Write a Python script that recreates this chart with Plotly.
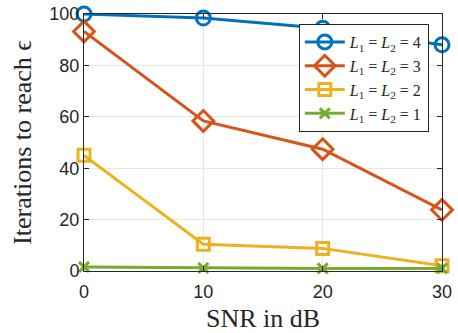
import plotly.graph_objects as go

snr = [0, 10, 20, 30]
it_L4 = [100, 98.4, 94.5, 88]
it_L3 = [93.2, 58.4, 47.4, 23.8]
it_L2 = [45, 10.4, 8.8, 2]
it_L1 = [1.6, 1.2, 1.0, 1.0]

names = ["<i>L</i><sub>1</sub> = <i>L</i><sub>2</sub> = 4",
         "<i>L</i><sub>1</sub> = <i>L</i><sub>2</sub> = 3",
         "<i>L</i><sub>1</sub> = <i>L</i><sub>2</sub> = 2",
         "<i>L</i><sub>1</sub> = <i>L</i><sub>2</sub> = 1"]
colors = ["#0072BD", "#D95319", "#EDB120", "#77AC30"]
symbols = ["circle-open", "diamond-open", "square-open", "x-thin-open"]
sizes = [14, 16, 12, 10]
series = [it_L4, it_L3, it_L2, it_L1]

fig = go.Figure()
for ys, nm, c, s, sz in zip(series, names, colors, symbols, sizes):
    fig.add_trace(go.Scatter(
        x=snr, y=ys, name=nm, mode="lines+markers",
        line=dict(color=c, width=3),
        marker=dict(symbol=s, size=sz, color=c, line=dict(width=3, color=c)),
        cliponaxis=False))

axis_common = dict(showline=True, linecolor="#262626", linewidth=1, mirror="ticks",
                   ticks="inside", ticklen=5, tickcolor="#262626",
                   showgrid=True, gridcolor="#E6E6E6", gridwidth=1, zeroline=False,
                   tickfont=dict(family="Liberation Sans, Arial", size=18, color="#262626"))

fig.update_xaxes(range=[0, 30], tickvals=[0, 10, 20, 30], ticklabelstandoff=4,
                 automargin=False,
                 title=dict(text="SNR in dB", font=dict(family="Liberation Serif, serif", size=26, color="#262626")),
                 **axis_common)
fig.update_yaxes(range=[0, 100], tickvals=[0, 20, 40, 60, 80, 100],
                 automargin="left",
                 title=dict(text="Iterations to reach ϵ", standoff=10,
                            font=dict(family="Liberation Serif, serif", size=26, color="#262626")),
                 **axis_common)

fig.update_layout(
    width=458, height=333,
    margin=dict(l=84, r=16, t=14, b=62),
    paper_bgcolor="white", plot_bgcolor="white",
    showlegend=True,
    legend=dict(x=0.6, y=0.961, xanchor="left", yanchor="top",
                bgcolor="white", bordercolor="#262626", borderwidth=1,
                font=dict(family="Liberation Serif, serif", size=16, color="#262626"),
                itemwidth=40, tracegroupgap=0),
)

fig.write_html("out.html")
